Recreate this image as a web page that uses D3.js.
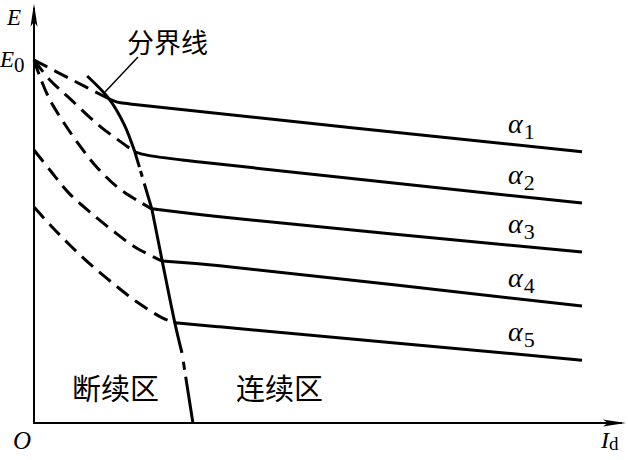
<!DOCTYPE html>
<html>
<head>
<meta charset="utf-8">
<script src="https://cdn.jsdelivr.net/npm/d3@7"></script>
<style>
  body { margin: 0; background: #fff; }
  svg { display: block; }
  .serif { font-family: "Liberation Serif", "DejaVu Serif", serif; }
  .cjk { font-family: "Noto Sans CJK SC", sans-serif; }
</style>
</head>
<body>
<svg id="chart" width="628" height="460"></svg>
<script>
// Id and E in relative units, E0 = 100
const alphaSubs = ["1", "2", "3", "4", "5"]

// dashed part of every curve (discontinuous current), [Id, E]
const discA1 = [[0, 100], [6.6, 94.8], [13.7, 89.3]]
const discA2 = [[0, 100], [2.9, 94.5], [6.6, 89.3], [12.0, 81.8], [18.4, 74.7]]
const discA3 = [[0, 100], [1.1, 95.3], [2.9, 89.0], [5.1, 83.5], [8.0, 77.1], [11.1, 71.1], [15.2, 65.0], [19.3, 60.9], [21.5, 59.0]]
const discA4 = [[0, 75.2], [2.9, 69.7], [6.2, 63.6], [10.2, 58.1], [14.2, 53.2], [18.4, 48.5], [23.4, 44.6]]
const discA5 = [[0, 59.5], [3.3, 54.0], [6.9, 48.5], [10.8, 43.0], [14.8, 38.0], [19.0, 33.1], [23.5, 28.9], [25.7, 27.6]]

// solid part of every curve (continuous current)
const contA1 = [[13.7, 89.3], [15.2, 88.4], [17.5, 87.9], [100, 74.7]]
const contA2 = [[18.4, 74.7], [20.6, 73.8], [30.3, 71.9], [100, 60.6]]
const contA3 = [[21.5, 59.0], [33.9, 56.8], [100, 47.1]]
const contA4 = [[23.4, 44.6], [33.9, 43.3], [100, 32.2]]
const contA5 = [[25.7, 27.6], [33.9, 26.5], [100, 17.3]]

// boundary line between the two regions
const boundary = [[9.7, 95.6], [13.7, 89.3], [16.4, 82.4], [18.4, 74.7], [21.5, 59.0],
  [23.4, 44.6], [25.7, 27.6], [27.0, 19.3], [29.0, 0]]

const x = d3.scaleLinear().domain([0, 100]).range([34, 582])
const y = d3.scaleLinear().domain([0, 100]).range([423, 60])

const svg = d3.select('#chart')

const line = d3.line()
  .x(d => x(d[0]))
  .y(d => y(d[1]))
  .curve(d3.curveCatmullRom)

// axes with arrow heads
const xEnd = x(108)
const yEnd = y(115.5)

svg.append('line')
  .attr('x1', x(0)).attr('y1', y(0))
  .attr('x2', xEnd - 4).attr('y2', y(0))
  .attr('stroke', '#000').attr('stroke-width', 2)

svg.append('line')
  .attr('x1', x(0)).attr('y1', y(0) + 1)
  .attr('x2', x(0)).attr('y2', yEnd + 4)
  .attr('stroke', '#000').attr('stroke-width', 2)

svg.append('path')
  .attr('d', `M${xEnd},${y(0)} L${xEnd - 23},${y(0) - 3.5} L${xEnd - 18},${y(0)} L${xEnd - 23},${y(0) + 3.5} Z`)
  .attr('fill', '#000')

svg.append('path')
  .attr('d', `M${x(0)},${yEnd} L${x(0) - 3.5},${yEnd + 23} L${x(0)},${yEnd + 18} L${x(0) + 3.5},${yEnd + 23} Z`)
  .attr('fill', '#000')

// curves
const discAll = [discA1, discA2, discA3, discA4, discA5]
const contAll = [contA1, contA2, contA3, contA4, contA5]

svg.append('g')
  .selectAll('path')
  .data(discAll)
  .enter().append('path')
  .attr('d', line)
  .attr('fill', 'none')
  .attr('stroke', '#000')
  .attr('stroke-width', 3)
  .attr('stroke-dasharray', '15 8')

svg.append('g')
  .selectAll('path')
  .data(contAll)
  .enter().append('path')
  .attr('d', line)
  .attr('fill', 'none')
  .attr('stroke', '#000')
  .attr('stroke-width', 3)

// boundary, drawn piece by piece (solid / dash-dot)
const boundaryParts = [
  { from: 0, to: 3, dash: null },
  { from: 3, to: 4, dash: '16 4 6 7 200 0' },
  { from: 4, to: 7, dash: null },
  { from: 7, to: 8, dash: '0 9 8 7 200 0' }
]

svg.append('g')
  .selectAll('path')
  .data(boundaryParts)
  .enter().append('path')
  .attr('d', p => line(boundary.slice(p.from, p.to + 1)))
  .attr('fill', 'none')
  .attr('stroke', '#000')
  .attr('stroke-width', 3)
  .attr('stroke-dasharray', p => p.dash)

// leader to 分界线
svg.append('line')
  .attr('x1', 138).attr('y1', 57)
  .attr('x2', 105).attr('y2', 92)
  .attr('stroke', '#000').attr('stroke-width', 1.5)

// alpha labels
const labels = svg.append('g').attr('class', 'serif')
contAll.forEach((c, i) => {
  const last = c[c.length - 1]
  const t = labels.append('text')
    .attr('x', x(86.5))
    .attr('y', y(last[1]) - 19)
    .attr('font-size', 28)
  t.append('tspan').attr('font-style', 'italic').text('α')
  t.append('tspan').attr('dx', 1).attr('dy', 6).attr('font-size', 22).text(alphaSubs[i])
})

// axis labels
const axisText = svg.append('g').attr('class', 'serif')
axisText.append('text').attr('x', 7).attr('y', 25).attr('font-size', 23)
  .attr('font-style', 'italic').text('E')

const e0 = axisText.append('text').attr('x', 0).attr('y', 67).attr('font-size', 23)
e0.append('tspan').attr('font-style', 'italic').text('E')
e0.append('tspan').attr('dy', 5).attr('font-size', 21).text('0')

axisText.append('text').attr('x', 13).attr('y', 449).attr('font-size', 25)
  .attr('font-style', 'italic').text('O')

const id = axisText.append('text').attr('x', 601).attr('y', 448).attr('font-size', 24)
id.append('tspan').attr('font-style', 'italic').text('I')
id.append('tspan').attr('dy', 2).attr('font-size', 19).text('d')

// region names
const cjk = svg.append('g').attr('class', 'cjk').attr('fill', '#000')
cjk.append('text').attr('x', 127).attr('y', 53).attr('font-size', 27).text('分界线')
cjk.append('text').attr('x', 72).attr('y', 400).attr('font-size', 29).text('断续区')
cjk.append('text').attr('x', 236).attr('y', 400).attr('font-size', 29).text('连续区')
</script>
</body>
</html>
